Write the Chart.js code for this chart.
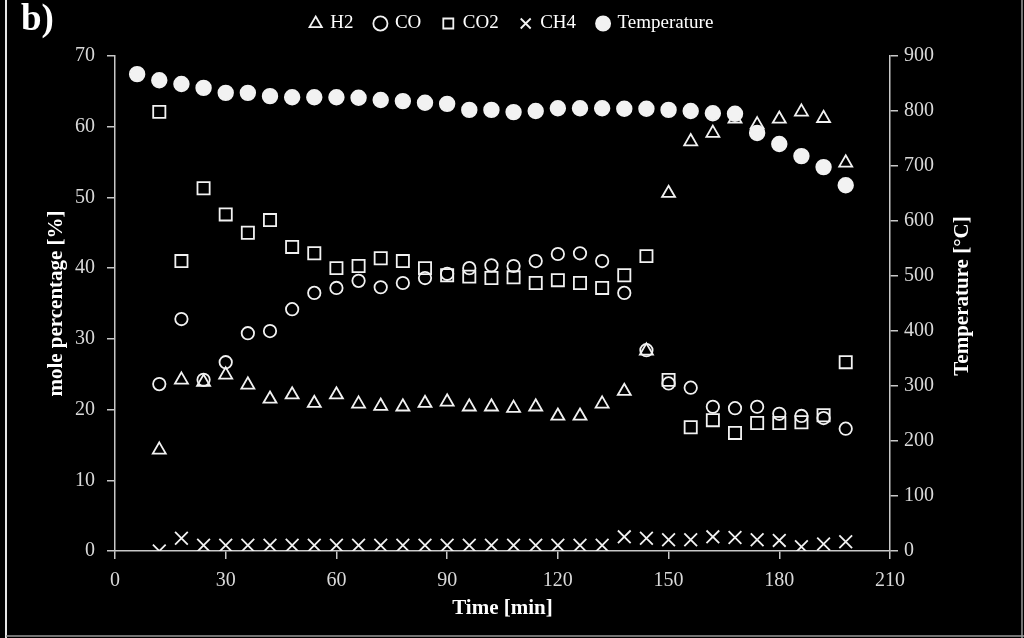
<!DOCTYPE html>
<html>
<head>
<meta charset="utf-8">
<title>Gas composition and temperature</title>
<script src="https://cdn.jsdelivr.net/npm/chart.js@4.4.1/dist/chart.umd.min.js"></script>
<style>
  html, body { margin: 0; padding: 0; background: #000; }
  #wrap { width: 1024px; height: 638px; }
</style>
</head>
<body>
<div id="wrap"><canvas id="chart" width="1024" height="638"></canvas></div>
<script>
// sampling times [min]
const gasTime  = [12, 18, 24, 30, 36, 42, 48, 54, 60, 66, 72, 78, 84, 90, 96, 102,
                  108, 114, 120, 126, 132, 138, 144, 150, 156, 162, 168, 174, 180, 186, 192, 198];
const tempTime = [6, 12, 18, 24, 30, 36, 42, 48, 54, 60, 66, 72, 78, 84, 90, 96, 102,
                  108, 114, 120, 126, 132, 138, 144, 150, 156, 162, 168, 174, 180, 186, 192, 198];

// mole percentage [%]
const h2  = [14.3, 24.2, 23.9, 24.9, 23.5, 21.5, 22.1, 20.9, 22.1, 20.8, 20.5, 20.4, 20.9, 21.1, 20.4, 20.4,
             20.2, 20.4, 19.1, 19.1, 20.8, 22.6, 28.3, 50.6, 57.9, 59.1, 61.1, 60.3, 61.1, 62.1, 61.2, 54.9];
const co  = [23.6, 32.8, 24.2, 26.7, 30.8, 31.1, 34.2, 36.5, 37.2, 38.2, 37.3, 37.9, 38.6, 39.2, 40.0, 40.4,
             40.3, 41.0, 42.0, 42.1, 41.0, 36.5, 28.4, 23.7, 23.1, 20.4, 20.2, 20.4, 19.4, 19.1, 18.8, 17.3];
const co2 = [62.1, 41.0, 51.3, 47.6, 45.0, 46.8, 43.0, 42.1, 40.0, 40.3, 41.4, 41.0, 40.0, 39.0, 38.8, 38.6,
             38.7, 37.9, 38.3, 37.9, 37.2, 39.0, 41.7, 24.2, 17.5, 18.5, 16.7, 18.1, 18.1, 18.2, 19.2, 26.7];
const ch4 = [0.0, 1.8, 0.8, 0.8, 0.8, 0.8, 0.8, 0.8, 0.8, 0.8, 0.8, 0.8, 0.8, 0.8, 0.8, 0.8,
             0.8, 0.8, 0.8, 0.8, 0.8, 2.0, 1.8, 1.6, 1.6, 2.0, 1.9, 1.6, 1.5, 0.6, 1.0, 1.3];

// temperature [°C]
const temperature = [867, 856, 849, 842, 833, 833, 827, 825, 825, 825, 824, 820, 818, 815, 813, 802, 802,
                     798, 800, 805, 805, 805, 804, 804, 802, 800, 796, 795, 760, 740, 718, 698, 665];

const xTicks = { min: 0, max: 210, step: 30 };
const yTicks = { min: 0, max: 70, step: 10 };
const y2Ticks = { min: 0, max: 900, step: 100 };

const serif = "'Liberation Serif', 'Times New Roman', serif";
const ink = "#f2f2f2";
const axisColor = "#c8c8c8";
const tickColor = "#d9d9d9";
const titleFont = { family: serif, size: 21, weight: "bold" };

const pts = (xs, ys) => xs.map((x, i) => ({ x, y: ys[i] }));

const marker = (label, data, style, radius, extra) => Object.assign({
  label,
  data,
  pointStyle: style,
  pointRadius: radius,
  borderColor: ink,
  backgroundColor: "transparent",
  pointBorderWidth: 1.8,
  borderWidth: 1.8,
  showLine: false,
  yAxisID: "y",
}, extra || {});

// black page, frame lines, panel letter, right-hand axis title (reads bottom-up)
const decor = {
  id: "decor",
  beforeLayout(chart) {
    // leave a gap between the legend row and the plot, legend stays at the top
    const lg = chart.legend;
    if (lg && !lg._gapped) {
      const fit = lg.fit;
      lg.fit = function () { fit.call(this); this.height += 13; };
      lg._gapped = true;
    }
  },
  beforeDraw(chart) {
    const { ctx, width, height } = chart;
    ctx.save();
    ctx.fillStyle = "#000";
    ctx.fillRect(0, 0, width, height);
    ctx.restore();
  },
  afterDraw(chart) {
    const { ctx, width, height } = chart;
    ctx.save();
    ctx.strokeStyle = "#e6e6e6";
    ctx.lineWidth = 2;
    ctx.beginPath();
    ctx.moveTo(6, 0); ctx.lineTo(6, height);
    ctx.stroke();
    ctx.strokeStyle = "#9a9a9a";
    ctx.lineWidth = 1.5;
    ctx.beginPath();
    ctx.moveTo(6, height - 2); ctx.lineTo(width, height - 2);
    ctx.moveTo(width - 2, 0); ctx.lineTo(width - 2, height);
    ctx.stroke();

    ctx.fillStyle = "#fff";
    ctx.font = "bold 37px " + serif;
    ctx.textBaseline = "middle";
    ctx.fillText("b)", 21, 20);

    ctx.font = "bold 21px " + serif;
    ctx.textAlign = "center";
    ctx.translate(963, 296);
    ctx.rotate(-Math.PI / 2);
    ctx.fillText("Temperature [°C]", 0, 0);
    ctx.restore();
  }
};

new Chart(document.getElementById("chart"), {
  type: "scatter",
  data: {
    datasets: [
      marker("H2", pts(gasTime, h2), "triangle", 7.5, { order: 1 }),
      marker("CO", pts(gasTime, co), "circle", 6.2, { order: 2 }),
      marker("CO2", pts(gasTime, co2), "rect", 8.6, { order: 3 }),
      marker("CH4", pts(gasTime, ch4), "crossRot", 9, { order: 4 }),
      marker("Temperature", pts(tempTime, temperature), "circle", 7.3,
             { backgroundColor: ink, yAxisID: "y2", order: 0 }),
    ],
  },
  options: {
    responsive: false,
    animation: false,
    devicePixelRatio: 1,
    events: [],
    layout: { padding: { top: -8, left: 8, right: 8, bottom: 4 } },
    plugins: {
      legend: {
        position: "top",
        labels: {
          color: "#fff",
          font: { family: serif, size: 19 },
          usePointStyle: true,
          boxWidth: 10,
          boxHeight: 10,
          padding: 22,
          sort: (a, b) => a.datasetIndex - b.datasetIndex,
        },
      },
      tooltip: { enabled: false },
    },
    scales: {
      x: {
        type: "linear",
        position: "bottom",
        min: xTicks.min,
        max: xTicks.max,
        ticks: { stepSize: xTicks.step, color: tickColor, font: { family: serif, size: 20 }, padding: 10 },
        grid: { drawOnChartArea: false, drawTicks: true, tickLength: 8, color: axisColor, lineWidth: 1.5 },
        border: { color: axisColor, width: 1.5 },
        title: { display: true, text: "Time [min]", color: "#fff", font: titleFont,
                 padding: { top: 0, bottom: 13 } },
        afterFit: (s) => { s.height = 83; },
      },
      y: {
        position: "left",
        min: yTicks.min,
        max: yTicks.max,
        ticks: { stepSize: yTicks.step, color: tickColor, font: { family: serif, size: 20 }, padding: 12 },
        grid: { drawOnChartArea: false, drawTicks: true, tickLength: 8, color: axisColor, lineWidth: 1.5 },
        border: { color: axisColor, width: 1.5 },
        title: { display: true, text: "mole percentage [%]", color: "#fff", font: titleFont,
                 padding: { top: 36, bottom: 0 } },
        afterFit: (s) => { s.width = 107; },
      },
      y2: {
        position: "right",
        min: y2Ticks.min,
        max: y2Ticks.max,
        ticks: { stepSize: y2Ticks.step, color: tickColor, font: { family: serif, size: 20 }, padding: 6 },
        grid: { drawOnChartArea: false, drawTicks: true, tickLength: 8, color: axisColor, lineWidth: 1.5 },
        border: { color: axisColor, width: 1.5 },
        afterFit: (s) => { s.width = 126; },
      },
    },
  },
  plugins: [decor],
});
</script>
</body>
</html>
